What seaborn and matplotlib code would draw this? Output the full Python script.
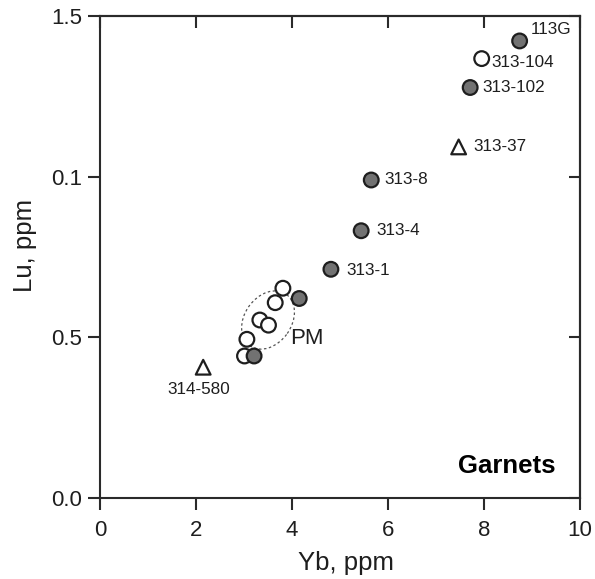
import pandas as pd
import matplotlib
matplotlib.use("Agg")
import matplotlib.pyplot as plt
import seaborn as sns
from matplotlib.patches import Ellipse
from matplotlib.transforms import ScaledTranslation

# Garnet analyses: Yb vs Lu (ppm)
open_yb = [3.01, 3.06, 3.33, 3.51, 3.65, 3.81, 7.95]
open_lu = [0.442, 0.494, 0.554, 0.538, 0.608, 0.653, 1.368]
open_names = ["", "", "", "", "", "", "313-104"]

filled_yb = [3.21, 4.15, 4.81, 5.44, 5.65, 7.71, 8.74]
filled_lu = [0.442, 0.621, 0.712, 0.832, 0.990, 1.278, 1.423]
filled_names = ["", "", "313-1", "313-4", "313-8", "313-102", "113G"]

tri_yb = [2.15, 7.47]
tri_lu = [0.407, 1.093]
tri_names = ["314-580", "313-37"]

x_ticks = [0, 2, 4, 6, 8, 10]
x_tick_labels = ["0", "2", "4", "6", "8", "10"]
y_ticks = [0.0, 0.5, 1.0, 1.5]
y_tick_labels = ["0.0", "0.5", "0.1", "1.5"]

# primitive mantle field (centre in data units)
pm_center = (3.5, 0.554)

df = pd.concat([
    pd.DataFrame({"Yb": open_yb, "Lu": open_lu, "name": open_names, "kind": "open"}),
    pd.DataFrame({"Yb": filled_yb, "Lu": filled_lu, "name": filled_names, "kind": "filled"}),
    pd.DataFrame({"Yb": tri_yb, "Lu": tri_lu, "name": tri_names, "kind": "tri"}),
], ignore_index=True)

sns.set_style("white")
plt.rcParams["font.family"] = ["Liberation Sans", "DejaVu Sans"]

ink = "#1e1e1e"
fig = plt.figure(figsize=(5.95, 5.79), dpi=100)
ax = fig.add_axes([0.168, 0.140, 0.807, 0.832])

sns.scatterplot(
    data=df, x="Yb", y="Lu", hue="kind", style="kind",
    palette={"open": "white", "filled": "#727272", "tri": "white"},
    markers={"open": "o", "filled": "o", "tri": "^"},
    s=112, edgecolor=ink, linewidth=1.6, legend=False, ax=ax, zorder=3,
)

# dotted field outline, sized in inches so it keeps its shape
ell = Ellipse((0, 0), width=0.63, height=0.47, angle=55, fill=False,
              linestyle=(0, (2, 2)), linewidth=0.9, edgecolor="#555555",
              transform=fig.dpi_scale_trans + ScaledTranslation(*pm_center, ax.transData),
              zorder=2)
ax.add_patch(ell)
ax.text(3.97, 0.495, "PM", fontsize=16, va="center", ha="left", color=ink)

# sample labels (offsets in points)
offsets = {
    "113G": (7.7, 8.0, "left"),
    "313-104": (7.2, -2.7, "left"),
    "313-102": (9.0, 0.0, "left"),
    "313-37": (10.4, 0.0, "left"),
    "313-8": (9.6, 0.0, "left"),
    "313-4": (10.8, 0.0, "left"),
    "313-1": (10.8, -1.0, "left"),
    "314-580": (-2.9, -15.8, "center"),
}
for _, r in df.iterrows():
    if r["name"]:
        dx, dy, ha = offsets[r["name"]]
        ax.annotate(r["name"], (r["Yb"], r["Lu"]), xytext=(dx, dy),
                    textcoords="offset points", ha=ha, va="center",
                    fontsize=12.3, color=ink)

ax.text(0.948, 0.051, "Garnets", transform=ax.transAxes, ha="right",
        va="baseline", fontsize=18.5, fontweight="bold", color="black")

ax.set_xlim(0, 10)
ax.set_ylim(0, 1.5)
ax.set_xticks(x_ticks, x_tick_labels)
ax.set_yticks(y_ticks, y_tick_labels)

for sp in ax.spines.values():
    sp.set_visible(True)
    sp.set_linewidth(1.5)
    sp.set_color("#2a2a2a")

ax.tick_params(axis="both", which="major", bottom=True, left=True,
               top=False, right=False, direction="out", length=8.5, width=1.5,
               color="#2a2a2a", labelsize=16, labelcolor=ink)
ax.tick_params(axis="x", pad=7.5)
ax.tick_params(axis="y", pad=4.3)

secx = ax.secondary_xaxis("top")
secx.set_xticks(x_ticks)
secx.tick_params(top=True, direction="in", length=8.5, width=1.5,
                 color="#2a2a2a", labeltop=False)
secy = ax.secondary_yaxis("right")
secy.set_yticks(y_ticks)
secy.tick_params(right=True, direction="in", length=8.0, width=1.5,
                 color="#2a2a2a", labelright=False)
for sec in (secx, secy):
    for sp in sec.spines.values():
        sp.set_linewidth(1.5)
        sp.set_color("#2a2a2a")

ax.set_xlabel("Yb, ppm", fontsize=18.5, color=ink)
ax.set_ylabel("Lu, ppm", fontsize=18.5, color=ink)
ax.xaxis.set_label_coords(0.512, -0.111)
ax.yaxis.set_label_coords(-0.131, 0.524)

fig.savefig("out.png", dpi=100, facecolor="white")
